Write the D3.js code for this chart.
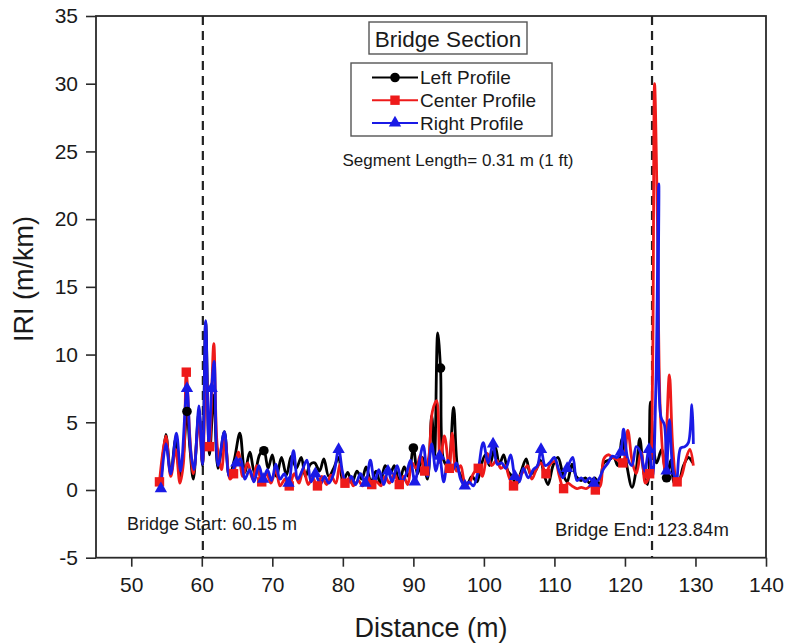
<!DOCTYPE html>
<html>
<head>
<meta charset="utf-8">
<script src="https://cdn.jsdelivr.net/npm/d3@7"></script>
<style>
  body { margin: 0; background: #fff; }
  svg { display: block; }
  text { font-family: "Liberation Sans", Arial, sans-serif; fill: #1a1a1a; }
</style>
</head>
<body>
<svg id="chart" width="787" height="643"></svg>
<script>
// ---- data: IRI per 0.31 m segment, [distance (m), IRI (m/km)] ----
const leftProfile = [
  [54.2,0.5],[54.9,4.1],[55.6,1.2],[56.3,3.8],[56.9,1.0],[57.4,2.6],[57.9,5.8],[58.3,3.2],[58.8,0.8],[59.6,5.8],
  [60.1,1.8],[60.55,12.4],[61.1,2.6],[61.7,7.0],[62.3,1.6],[63.2,4.3],[63.9,1.0],[64.6,2.2],[65.4,4.2],[66.1,1.3],
  [66.8,2.8],[67.5,1.2],[68.2,2.6],[68.8,2.9],[69.4,1.6],[70.0,2.6],[70.6,1.0],[71.3,2.4],[72.0,1.1],[72.7,2.5],
  [73.4,1.6],[74.1,2.4],[74.7,1.0],[75.4,1.9],[76.0,2.0],[76.7,1.4],[77.3,2.3],[78.0,1.0],[78.7,1.6],[79.4,2.4],
  [80.0,0.6],[80.7,1.3],[81.3,0.5],[82.0,1.4],[82.7,0.8],[83.3,1.7],[84.0,0.6],[84.7,1.4],[85.3,0.5],[86.0,1.8],
  [86.7,1.2],[87.3,1.8],[88.0,0.6],[88.7,1.7],[89.3,1.0],[90.0,3.1],[90.6,1.2],[91.3,2.4],[92.0,0.8],[92.6,5.5],
  [93.0,2.5],[93.45,11.6],[93.85,9.0],[94.3,2.2],[94.9,1.8],[95.7,6.1],[96.3,1.6],[96.9,0.9],[97.6,0.4],[98.3,1.0],
  [99.0,0.6],[99.6,1.8],[100.2,2.6],[100.8,1.8],[101.6,3.2],[102.2,1.9],[102.8,2.6],[103.4,1.4],[104.0,1.0],[104.6,0.4],
  [105.3,1.4],[106.0,2.3],[106.6,1.2],[107.3,1.4],[108.0,2.2],[108.6,1.0],[109.1,0.4],[109.8,1.8],[110.5,2.4],[111.2,1.2],
  [111.8,0.6],[112.5,1.9],[113.1,1.0],[113.8,0.7],[114.4,0.9],[115.0,0.5],[115.7,0.9],[116.4,0.4],[117.0,2.0],[117.7,2.2],
  [118.4,2.4],[119.0,1.8],[119.6,3.8],[120.2,2.0],[121.0,0.2],[121.6,1.5],[122.1,3.8],[122.7,1.2],[123.2,0.4],[123.6,6.5],
  [124.0,3.5],[124.5,2.0],[125.2,3.0],[125.9,0.9],[126.5,2.2],[127.0,0.5],[127.6,0.6],[128.3,1.8],[129.0,2.4],[129.6,2.0]
];
const centerProfile = [
  [54.0,0.6],[54.9,4.0],[55.6,1.0],[56.3,3.0],[56.9,0.5],[57.4,2.0],[57.8,8.7],[58.3,4.0],[58.8,1.2],[59.6,5.0],
  [60.1,2.0],[60.6,9.0],[61.1,3.2],[61.7,10.8],[62.2,3.2],[62.8,1.5],[63.3,3.8],[64.0,0.8],[64.5,1.2],[65.2,2.8],
  [65.8,1.0],[66.5,2.0],[67.2,0.8],[67.8,1.8],[68.5,0.6],[69.2,1.2],[69.8,0.5],[70.5,1.5],[71.1,0.3],[71.8,0.8],
  [72.4,0.3],[73.1,1.2],[73.8,0.5],[74.4,1.6],[75.1,0.4],[75.7,0.9],[76.4,0.3],[77.0,1.0],[77.7,0.4],[78.3,1.1],
  [79.0,0.5],[79.6,1.9],[80.3,0.5],[80.9,0.9],[81.5,0.3],[82.2,0.7],[82.8,0.3],[83.5,1.0],[84.1,0.4],[84.8,0.6],
  [85.4,0.3],[86.0,1.0],[86.6,0.5],[87.3,1.2],[88.0,0.4],[88.6,1.0],[89.2,0.4],[89.8,2.0],[90.4,1.6],[91.0,2.6],
  [91.6,1.4],[92.2,2.5],[92.7,5.8],[93.3,6.6],[93.8,2.0],[94.4,4.0],[95.1,1.6],[95.5,4.2],[96.1,1.4],[96.7,1.8],
  [97.3,0.6],[97.9,0.5],[98.5,1.2],[99.2,1.6],[99.8,1.0],[100.5,2.7],[101.1,1.8],[101.8,2.2],[102.4,1.6],[103.0,1.8],
  [103.6,0.9],[104.2,0.3],[104.9,0.9],[105.5,1.3],[106.2,1.8],[106.8,0.8],[107.5,1.6],[108.1,2.0],[108.8,1.2],[109.4,1.9],
  [110.1,2.1],[110.7,1.0],[111.3,0.1],[111.9,0.5],[112.5,0.3],[113.2,0.1],[113.8,0.2],[114.5,0.1],[115.2,0.3],[115.8,0.0],
  [116.5,0.3],[117.0,2.3],[117.6,2.6],[118.3,2.4],[119.0,2.2],[119.7,2.0],[120.4,4.4],[121.0,2.2],[121.6,1.2],[122.3,2.8],
  [122.9,0.5],[123.5,1.2],[123.9,8.0],[124.2,30.0],[124.6,20.0],[125.0,6.0],[125.6,1.5],[126.3,8.5],[126.8,3.0],[127.4,0.6],
  [128.0,1.0],[128.6,2.2],[129.2,3.0],[129.7,1.8]
];
const rightProfile = [
  [54.2,0.1],[54.9,3.4],[55.6,1.2],[56.4,4.2],[57.0,1.4],[57.9,7.5],[58.4,3.0],[58.9,1.5],[59.6,6.2],[60.1,1.9],
  [60.55,12.5],[61.0,3.5],[61.4,7.5],[61.75,9.5],[62.3,1.8],[63.2,4.3],[63.9,1.0],[64.5,1.6],[64.9,2.0],[65.5,2.3],
  [66.1,0.8],[66.8,1.5],[67.4,0.6],[68.1,1.8],[68.7,0.8],[69.3,1.5],[69.9,0.7],[70.5,1.9],[71.1,0.8],[71.7,1.2],
  [72.3,0.5],[73.0,2.9],[73.6,0.8],[74.2,1.4],[74.9,2.2],[75.5,0.6],[76.1,1.2],[76.8,0.4],[77.4,1.0],[78.0,0.5],
  [78.7,1.2],[79.4,3.0],[80.0,1.2],[80.6,0.4],[81.2,1.0],[81.8,0.4],[82.5,1.2],[83.2,0.5],[83.9,2.2],[84.5,0.6],
  [85.1,1.5],[85.8,0.4],[86.4,1.4],[87.0,0.6],[87.7,1.8],[88.4,0.6],[89.0,1.2],[89.6,2.2],[90.2,0.6],[90.8,2.0],
  [91.4,3.3],[92.0,1.0],[92.6,3.4],[93.2,1.4],[93.7,2.5],[94.3,0.6],[94.9,2.2],[95.5,1.4],[96.1,2.0],[96.7,0.8],
  [97.3,0.3],[97.9,0.6],[98.5,0.3],[99.1,1.2],[99.9,3.5],[100.6,2.0],[101.3,3.4],[101.9,1.9],[102.5,2.0],[103.1,1.6],
  [103.8,2.6],[104.4,1.0],[105.0,0.6],[105.6,1.6],[106.3,0.9],[107.0,1.5],[107.6,1.8],[108.1,3.0],[108.7,1.8],[109.3,2.0],
  [110.0,2.4],[110.6,1.5],[111.2,0.9],[111.8,1.6],[112.6,2.4],[113.2,0.7],[113.8,0.9],[114.4,0.6],[115.0,0.9],[115.6,0.5],
  [116.3,0.8],[116.9,1.5],[117.6,2.0],[118.2,2.5],[118.9,2.4],[119.4,2.8],[119.8,4.5],[120.4,2.3],[121.0,1.8],[121.6,3.2],
  [122.2,2.8],[122.8,1.4],[123.4,3.0],[123.9,1.0],[124.4,8.0],[124.8,22.6],[125.1,5.4],[125.6,4.8],[125.9,1.4],[126.3,5.2],
  [126.8,1.5],[127.3,0.7],[127.9,3.1],[128.5,3.2],[129.0,3.5],[129.5,6.3],[129.7,3.4]
];

// distances at which each profile carries a symbol
const leftMarks = [57.9, 68.8, 90.0, 93.85, 125.9];
const centerMarks = [54.0, 57.8, 61.1, 64.5, 68.5, 72.4, 76.4, 80.3, 84.1, 88.0, 91.6, 95.1, 99.2, 104.2, 108.8, 111.3, 115.8, 119.7, 123.5, 127.4];
const rightMarks = [54.2, 57.9, 61.4, 64.9, 68.7, 72.3, 76.1, 79.4, 83.2, 86.4, 90.2, 93.7, 97.3, 101.3, 104.4, 108.1, 111.8, 115.6, 119.4, 123.4, 125.9];

const seriesNames = ["Left Profile", "Center Profile", "Right Profile"];
const seriesColors = ["#000000", "#ee1a1a", "#1a1ae6"];
const xTicks = [50, 60, 70, 80, 90, 100, 110, 120, 130, 140];
const yTicks = [-5, 0, 5, 10, 15, 20, 25, 30, 35];
const bridgeStart = 60.15, bridgeEnd = 123.84;

// ---- layout ----
const svg = d3.select("#chart");
const plot = { left: 96, right: 766, top: 16, bottom: 557.7 };
const x = d3.scaleLinear().domain([45, 140]).range([plot.left, plot.right]);
const y = d3.scaleLinear().domain([-5, 35]).range([plot.bottom, plot.top]);

// minor ticks
const xMinor = xTicks.map(t => t - 5).filter(t => t > 45);
const yMinor = yTicks.slice(0, -1).map(t => t + 2.5);

const axisColor = "#2a2a2a";
const plainNumber = d => String(d);
const tickFont = 21;

// bottom axis
const gx = svg.append("g").attr("transform", `translate(0,${plot.bottom})`);
gx.call(d3.axisBottom(x).tickValues(xMinor).tickSize(5).tickFormat(""));
gx.call(d3.axisBottom(x).tickValues(xTicks).tickSize(9).tickPadding(10).tickFormat(plainNumber));
gx.selectAll(".domain").remove();
gx.selectAll("line").attr("stroke", axisColor).attr("stroke-width", 1.6);
gx.selectAll("text").attr("font-size", tickFont).style("font-family", '"Liberation Sans", Arial, sans-serif').attr("fill", "#1a1a1a");

// left axis
const gy = svg.append("g").attr("transform", `translate(${plot.left},0)`);
gy.call(d3.axisLeft(y).tickValues(yMinor).tickSize(5).tickFormat(""));
gy.call(d3.axisLeft(y).tickValues(yTicks).tickSize(10).tickPadding(8).tickFormat(plainNumber));
gy.selectAll(".domain").remove();
gy.selectAll("line").attr("stroke", axisColor).attr("stroke-width", 1.6);
gy.selectAll("text").attr("font-size", tickFont).style("font-family", '"Liberation Sans", Arial, sans-serif').attr("fill", "#1a1a1a");

// frame
svg.append("rect")
  .attr("x", plot.left).attr("y", plot.top)
  .attr("width", plot.right - plot.left).attr("height", plot.bottom - plot.top)
  .attr("fill", "none").attr("stroke", axisColor).attr("stroke-width", 1.8);

// bridge limits
[bridgeStart, bridgeEnd].forEach(b => {
  svg.append("line")
    .attr("x1", x(b)).attr("x2", x(b))
    .attr("y1", plot.top).attr("y2", plot.bottom)
    .attr("stroke", "#222").attr("stroke-width", 2.2)
    .attr("stroke-dasharray", "9,6");
});

// profile lines
const line = d3.line()
  .x(d => x(d[0])).y(d => y(d[1]))
  .curve(d3.curveCatmullRom.alpha(0.5));

const allSeries = [leftProfile, centerProfile, rightProfile];
const allMarks = [leftMarks, centerMarks, rightMarks];

const plotArea = svg.append("g");
allSeries.forEach((s, i) => {
  plotArea.append("path")
    .datum(s)
    .attr("d", line)
    .attr("fill", "none")
    .attr("stroke", seriesColors[i])
    .attr("stroke-width", 2.8)
    .attr("stroke-linejoin", "round");
});

// symbols
function drawSymbol(g, kind, cx, cy, color) {
  if (kind === 0) {
    g.append("circle").attr("cx", cx).attr("cy", cy).attr("r", 4.8).attr("fill", color);
  } else if (kind === 1) {
    g.append("rect").attr("x", cx - 4.7).attr("y", cy - 4.7).attr("width", 9.4).attr("height", 9.4).attr("fill", color);
  } else {
    g.append("path")
      .attr("d", d3.symbol(d3.symbolTriangle, 66)())
      .attr("transform", `translate(${cx},${cy})`)
      .attr("fill", color);
  }
}

allMarks.forEach((marks, i) => {
  const s = allSeries[i];
  marks.forEach(m => {
    const p = d3.least(s, q => Math.abs(q[0] - m));
    drawSymbol(plotArea, i, x(p[0]), y(p[1]), seriesColors[i]);
  });
});

// axis titles
svg.append("text")
  .attr("transform", `translate(33,279) rotate(-90)`)
  .attr("text-anchor", "middle")
  .attr("font-size", 27)
  .text("IRI (m/km)");

svg.append("text")
  .attr("x", (plot.left + plot.right) / 2).attr("y", 637)
  .attr("text-anchor", "middle")
  .attr("font-size", 27)
  .text("Distance (m)");

// title box
svg.append("rect")
  .attr("x", 369).attr("y", 22).attr("width", 158).attr("height", 32)
  .attr("fill", "#fff").attr("stroke", "#555").attr("stroke-width", 1.4);
svg.append("text")
  .attr("x", 448).attr("y", 46.5)
  .attr("text-anchor", "middle")
  .attr("font-size", 22.5)
  .text("Bridge Section");

// legend
const lg = svg.append("g");
lg.append("rect")
  .attr("x", 351).attr("y", 63).attr("width", 201).attr("height", 73)
  .attr("fill", "#fff").attr("stroke", "#555").attr("stroke-width", 1.4);
seriesNames.forEach((name, i) => {
  const ly = 77.5 + i * 22.7;
  lg.append("line")
    .attr("x1", 372).attr("x2", 418).attr("y1", ly).attr("y2", ly)
    .attr("stroke", seriesColors[i]).attr("stroke-width", 2);
  drawSymbol(lg, i, 395, ly, seriesColors[i]);
  lg.append("text")
    .attr("x", 420).attr("y", ly + 6.8)
    .attr("font-size", 19)
    .text(name);
});

// annotations
svg.append("text")
  .attr("x", 458).attr("y", 166)
  .attr("text-anchor", "middle")
  .attr("font-size", 17)
  .text("Segment Length= 0.31 m (1 ft)");

svg.append("text")
  .attr("x", 127).attr("y", 529.5)
  .attr("font-size", 18)
  .text("Bridge Start: 60.15 m");

svg.append("text")
  .attr("x", 555).attr("y", 536)
  .attr("font-size", 18.5)
  .text("Bridge End: 123.84m");
</script>
</body>
</html>
